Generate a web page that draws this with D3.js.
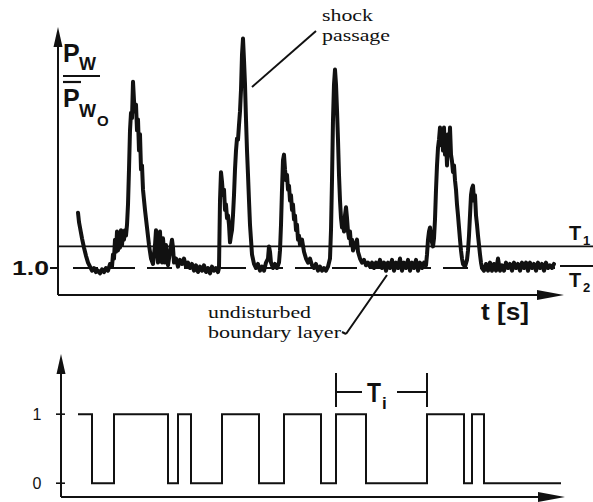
<!DOCTYPE html>
<html>
<head>
<meta charset="utf-8">
<script src="https://cdn.jsdelivr.net/npm/d3@7"></script>
<style>
  body { margin: 0; background: #fff; }
  svg { display: block; }
</style>
</head>
<body>
<div id="chart"></div>
<script>
// wall pressure trace p_w / p_w0 against t
const pressure = [
  [20,1.41],[21,1.34],[22,1.30],[24,1.22],[26,1.15],[28,1.09],[30,1.04],[32,1.01],[34,0.98],[36,1.00],
  [38,0.97],[40,0.98],[42,0.96],[44,0.99],[46,0.97],[48,1.00],[50,0.98],[52,1.03],[54,1.01],[55,1.10],
  [56,1.07],[57,1.21],[58,1.12],[59,1.27],[60,1.13],[61,1.24],[62,1.15],[63,1.28],[64,1.17],[65,1.27],
  [66,1.21],[67,1.28],[68,1.24],[69,1.32],[70,1.47],[71,1.73],[72,2.02],[73,2.15],[74,2.11],[75,2.38],
  [76,2.24],[77,2.16],[78,2.21],[79,2.02],[80,2.10],[81,1.87],[82,1.99],[83,1.73],[84,1.76],[85,1.58],
  [87,1.43],[89,1.30],[91,1.17],[93,1.07],[95,1.03],[97,1.17],[98,1.28],[99,1.15],[100,1.04],[101,1.21],
  [102,1.27],[103,1.10],[104,1.04],[105,1.22],[106,1.13],[107,1.04],[108,1.17],[109,1.07],[110,1.02],[112,1.12],
  [114,1.21],[115,1.15],[116,1.04],[118,1.07],[120,1.01],[122,1.06],[124,1.03],[126,1.07],[128,1.01],[130,1.04],
  [132,1.00],[134,1.03],[136,0.98],[138,1.02],[140,0.97],[142,1.01],[144,0.98],[146,1.02],[148,0.97],[150,1.00],
  [152,0.96],[154,1.01],[156,0.98],[158,1.00],[160,0.97],
  [161,1.00],[162,1.50],[163,1.71],[164,1.64],[165,1.54],[166,1.58],[167,1.43],[168,1.47],[169,1.37],[170,1.39],
  [171,1.32],[172,1.19],[173,1.24],[174,1.28],[175,1.39],[176,1.54],[177,1.73],[178,1.87],[179,1.96],[180,1.95],
  [181,2.06],[182,2.16],[183,2.32],[184,2.58],[185,2.70],[186,2.54],[187,2.36],[188,2.10],[189,1.87],[190,1.69],
  [191,1.50],[192,1.32],[193,1.21],[194,1.10],[196,1.03],[198,1.00],[200,1.03],[202,0.98],[204,1.01],[206,0.98],
  [208,1.04],[210,1.07],[211,1.16],[212,1.12],[213,1.04],[215,1.00],[217,1.03],[219,1.00],[221,1.04],[222,1.13],
  [223,1.32],[224,1.58],[225,1.80],[226,1.84],[227,1.73],[228,1.65],[229,1.69],[230,1.58],[231,1.61],[232,1.50],
  [233,1.54],[234,1.43],[235,1.47],[236,1.36],[237,1.39],[238,1.28],[239,1.32],[240,1.21],[241,1.24],[242,1.17],
  [244,1.21],[246,1.12],[248,1.07],[250,1.04],[252,1.07],[254,1.02],[256,1.00],[258,1.03],[260,0.98],[262,1.01],
  [264,0.98],[266,1.00],[268,0.98],[270,1.01],[272,1.07],
  [273,1.28],[274,1.65],[275,2.10],[276,2.36],[277,2.47],[278,2.36],[279,2.17],[280,1.95],[281,1.69],[282,1.50],
  [283,1.37],[284,1.30],[285,1.32],[286,1.27],[287,1.39],[288,1.45],[289,1.37],[290,1.27],[291,1.22],[292,1.27],
  [293,1.17],[294,1.21],[295,1.13],[297,1.17],[299,1.21],[300,1.12],[302,1.07],[304,1.04],[306,1.06],[308,1.02],
  [310,1.04],[312,1.01],[314,1.04],[316,1.00],[318,1.04],[320,1.01],[322,1.06],[324,1.00],[326,1.04],[328,0.98],
  [330,1.04],[332,1.00],[334,1.06],[336,0.98],[338,1.04],[340,1.00],[342,1.07],[344,0.98],[346,1.04],[348,1.00],
  [350,1.06],[352,0.98],[354,1.04],[356,1.00],[358,1.06],[360,0.98],[362,1.04],[364,1.00],[366,1.04],[368,1.02],
  [369,1.10],[370,1.21],[371,1.27],[372,1.30],[373,1.24],[374,1.19],[375,1.16],[376,1.22],[377,1.36],[378,1.58],
  [379,1.76],[380,1.89],[381,1.95],[382,2.04],[383,1.91],[384,2.01],[385,1.87],[386,2.04],[387,1.84],[388,1.95],
  [389,1.76],[390,1.99],[391,1.87],[392,2.04],[393,1.84],[394,1.79],[395,1.71],[396,1.76],[397,1.65],[398,1.58],
  [399,1.47],[400,1.39],[401,1.30],[402,1.21],[403,1.13],[404,1.07],[405,1.03],[407,1.01],[409,1.06],[410,1.13],
  [411,1.24],[412,1.39],[413,1.54],[414,1.59],[415,1.61],[416,1.50],[417,1.54],[418,1.39],[419,1.32],[420,1.24],
  [421,1.17],[422,1.10],[423,1.04],[424,1.00],[426,0.98],[428,1.03],[430,0.98],[432,1.04],[434,0.98],[436,1.03],
  [438,0.98],[440,1.07],[442,0.98],[444,1.02],[446,0.98],[448,1.04],[450,1.00],[452,1.03],[454,0.98],[456,1.04],
  [458,1.00],[460,1.03],[462,0.98],[464,1.04],[466,1.00],[468,1.04],[470,0.98],[472,1.04],[474,1.00],[476,1.03],
  [478,0.98],[480,1.04],[482,1.00],[484,1.03],[486,0.98],[488,1.04],[490,1.00],[492,1.02],[494,1.00],[496,1.03]
];

// intermittency function: switch times and level after each switch
const gammaT = [20, 34, 56, 110, 120, 133, 164, 201, 226, 263, 278, 308, 369, 406, 414, 426, 503];
const gammaV = [1, 0, 1, 0, 1, 0, 1, 0, 1, 0, 1, 0, 1, 0, 1, 0, 0];

const refLevel = 1.0;     // undisturbed level (dashed)
const t1Level = 1.16;     // threshold T1
const tiSpan = [278, 369];  // one period T_i
const gammaTicks = [0, 1];

const W = 593, H = 502;
const svg = d3.select("#chart").append("svg").attr("width", W).attr("height", H);
const ink = "#111";

const x = d3.scaleLinear().domain([0, 505]).range([58, 563]);
const y = d3.scaleLinear().domain([0.8, 2.8]).range([295, 25]);
const yb = d3.scaleLinear().domain([-0.2, 1.85]).range([497, 355.5]);

function arrowUp(g, cx, tip) {
  g.append("path").attr("d", `M${cx},${tip} L${cx-4.5},${tip+20} L${cx+4.5},${tip+20} Z`).attr("fill", ink);
}
function arrowRight(g, tip, cy) {
  g.append("path").attr("d", `M${tip},${cy} L${tip-27},${cy-5} L${tip-27},${cy+5} Z`).attr("fill", ink);
}

const sans = "'Liberation Sans', Arial, sans-serif";
const serif = "'Liberation Serif', 'Times New Roman', serif";

// ---------- top panel ----------
const topG = svg.append("g");
topG.append("line").attr("x1", x(0)).attr("x2", x(0)).attr("y1", y(0.8)).attr("y2", 32)
  .attr("stroke", ink).attr("stroke-width", 2);
arrowUp(topG, x(0), 27);
topG.append("line").attr("x1", x(0)).attr("x2", 540).attr("y1", y(0.8)).attr("y2", y(0.8))
  .attr("stroke", ink).attr("stroke-width", 2);
arrowRight(topG, 564, y(0.8));

// threshold T1 (solid) and reference 1.0 (dashed)
topG.append("line").attr("x1", x(0)).attr("x2", W).attr("y1", y(t1Level)).attr("y2", y(t1Level))
  .attr("stroke", ink).attr("stroke-width", 1.8);
topG.append("line").attr("x1", x(15)).attr("x2", x(497)).attr("y1", y(refLevel)).attr("y2", y(refLevel))
  .attr("stroke", ink).attr("stroke-width", 2).attr("stroke-dasharray", "25,12");
topG.append("line").attr("x1", 560).attr("x2", W).attr("y1", y(refLevel) - 2).attr("y2", y(refLevel) - 2)
  .attr("stroke", ink).attr("stroke-width", 2);
topG.append("line").attr("x1", 50).attr("x2", x(0)).attr("y1", y(refLevel)).attr("y2", y(refLevel))
  .attr("stroke", ink).attr("stroke-width", 2);

const line = d3.line().x(d => x(d[0])).y(d => y(d[1]));
topG.append("path").datum(pressure).attr("d", line)
  .attr("fill", "none").attr("stroke", ink).attr("stroke-width", 4)
  .attr("stroke-linejoin", "round").attr("stroke-linecap", "round");

topG.append("text").attr("x", 12).attr("y", 275).attr("font-family", sans).attr("font-size", 20)
  .attr("font-weight", "bold").attr("textLength", 37).attr("lengthAdjust", "spacingAndGlyphs")
  .attr("fill", ink).text("1.0");

// y label  P_W / P_W0
const lab = topG.append("g").attr("font-family", sans).attr("font-weight", "bold").attr("fill", ink);
lab.append("text").attr("x", 63).attr("y", 62).attr("font-size", 25).text("P");
lab.append("text").attr("x", 79).attr("y", 70).attr("font-size", 18).text("W");
lab.append("line").attr("x1", 63).attr("x2", 100).attr("y1", 76).attr("y2", 76).attr("stroke", ink).attr("stroke-width", 2.2);
lab.append("line").attr("x1", 63).attr("x2", 81).attr("y1", 82).attr("y2", 82).attr("stroke", ink).attr("stroke-width", 2.2);
lab.append("text").attr("x", 63).attr("y", 107).attr("font-size", 25).text("P");
lab.append("text").attr("x", 79).attr("y", 117).attr("font-size", 18).text("W");
lab.append("text").attr("x", 97).attr("y", 126).attr("font-size", 15).text("O");

// T1 / T2 labels
const tl = topG.append("g").attr("font-family", sans).attr("font-weight", "bold").attr("fill", ink);
tl.append("text").attr("x", 569).attr("y", 240).attr("font-size", 20).text("T");
tl.append("text").attr("x", 583).attr("y", 245).attr("font-size", 13).text("1");
tl.append("text").attr("x", 569).attr("y", 287).attr("font-size", 20).text("T");
tl.append("text").attr("x", 583).attr("y", 292).attr("font-size", 13).text("2");

topG.append("text").attr("x", 481).attr("y", 320).attr("font-family", sans).attr("font-size", 23)
  .attr("font-weight", "bold").attr("textLength", 48).attr("lengthAdjust", "spacingAndGlyphs")
  .attr("fill", ink).text("t [s]");

// annotations (two-line texts as single text elements)
const shock = topG.append("text").attr("font-family", serif).attr("font-size", 17).attr("fill", ink);
shock.append("tspan").attr("x", 322).attr("y", 21).attr("textLength", 51)
  .attr("lengthAdjust", "spacingAndGlyphs").text("shock");
shock.append("tspan").attr("x", 322).attr("dy", 20).attr("textLength", 68)
  .attr("lengthAdjust", "spacingAndGlyphs").text("passage");
topG.append("line").attr("x1", 252).attr("y1", 87).attr("x2", 316).attr("y2", 31)
  .attr("stroke", ink).attr("stroke-width", 2);

const ubl = topG.append("text").attr("font-family", serif).attr("font-size", 17).attr("fill", ink);
ubl.append("tspan").attr("x", 208).attr("y", 318).attr("textLength", 103)
  .attr("lengthAdjust", "spacingAndGlyphs").text("undisturbed");
ubl.append("tspan").attr("x", 208).attr("dy", 20).attr("textLength", 133)
  .attr("lengthAdjust", "spacingAndGlyphs").text("boundary layer");
topG.append("path").attr("d", "M387,275 L346,334 M346,334 L342,332")
  .attr("fill", "none").attr("stroke", ink).attr("stroke-width", 2);

// ---------- bottom panel ----------
const botG = svg.append("g");
botG.append("line").attr("x1", 61).attr("x2", 61).attr("y1", yb(-0.2)).attr("y2", 360)
  .attr("stroke", ink).attr("stroke-width", 2);
arrowUp(botG, 61, 354);
botG.append("line").attr("x1", 61).attr("x2", 540).attr("y1", yb(-0.2)).attr("y2", yb(-0.2))
  .attr("stroke", ink).attr("stroke-width", 2);
arrowRight(botG, 565, yb(-0.2));

gammaTicks.forEach(v => {
  botG.append("line").attr("x1", 56).attr("x2", 65).attr("y1", yb(v)).attr("y2", yb(v))
    .attr("stroke", ink).attr("stroke-width", 1.6);
  botG.append("text").attr("x", 37).attr("y", yb(v) + 6).attr("text-anchor", "middle")
    .attr("font-family", sans).attr("font-size", 16).attr("fill", ink).text(String(v));
});

const gamma = gammaT.map((t, i) => [t, gammaV[i]]);
const step = d3.line().x(d => x(d[0])).y(d => yb(d[1])).curve(d3.curveStepAfter);
botG.append("path").datum(gamma).attr("d", step)
  .attr("fill", "none").attr("stroke", ink).attr("stroke-width", 2);

// T_i bracket
const ti = botG.append("g").attr("stroke", ink).attr("stroke-width", 2);
tiSpan.forEach(t => {
  ti.append("line").attr("x1", x(t)).attr("x2", x(t)).attr("y1", 373).attr("y2", 407);
});
ti.append("line").attr("x1", x(tiSpan[0])).attr("x2", 362).attr("y1", 392).attr("y2", 392);
ti.append("line").attr("x1", 397).attr("x2", x(tiSpan[1])).attr("y1", 392).attr("y2", 392);
botG.append("text").attr("x", 367).attr("y", 402).attr("font-family", sans).attr("font-weight", "bold")
  .attr("font-size", 27).attr("textLength", 14).attr("lengthAdjust", "spacingAndGlyphs").attr("fill", ink).text("T");
botG.append("text").attr("x", 382).attr("y", 409).attr("font-family", sans).attr("font-weight", "bold")
  .attr("font-size", 17).attr("fill", ink).text("i");
</script>
</body>
</html>
